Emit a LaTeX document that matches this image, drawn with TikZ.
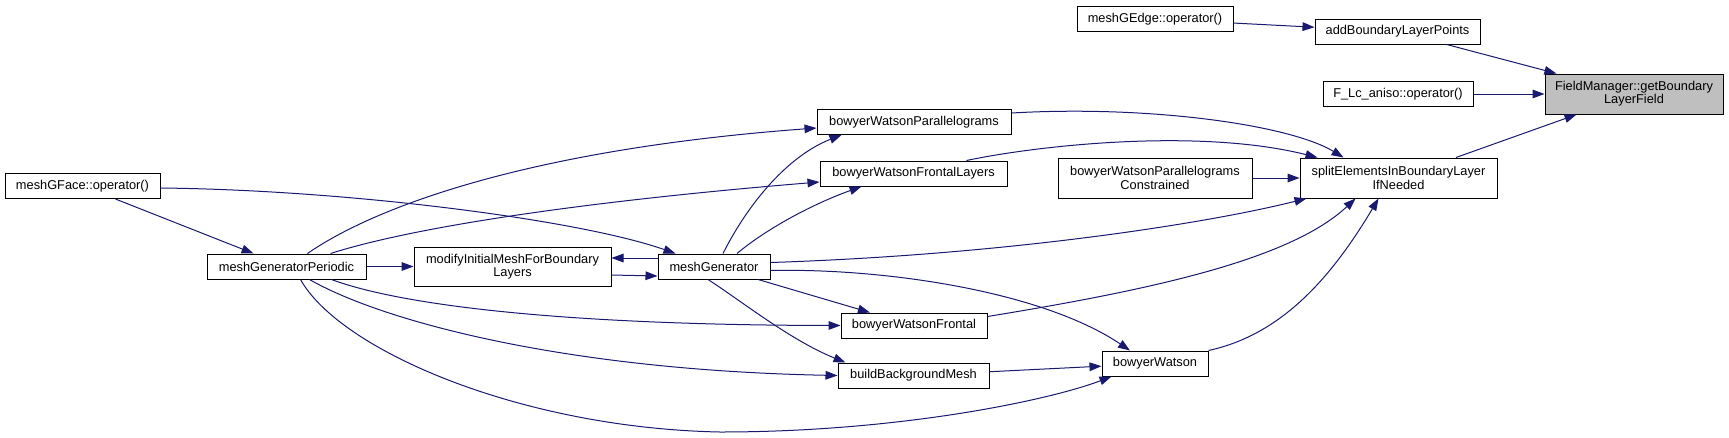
\documentclass[tikz,border=0pt]{standalone}
\usepackage{fontspec}
\setmainfont{Liberation Sans}
\usepackage{tikz}
\usetikzlibrary{arrows.meta,calc}
\definecolor{edgeblue}{HTML}{191970}
\definecolor{currentgray}{HTML}{BFBFBF}
\tikzset{
  fnbox/.style={draw=black, line width=0.75pt, fill=white, align=center, inner sep=1pt, minimum height=18.75pt},
  fnboxtwo/.style={fnbox, minimum height=30pt},
  currentfn/.style={fnboxtwo, fill=currentgray},
  arrow/.style={-{Triangle[length=9pt,width=6.5pt]}, line width=0.75pt, draw=edgeblue}
}

\begin{document}
\begin{tikzpicture}[x=0.75pt, y=-0.75pt, font=\fontsize{9.6pt}{10pt}\selectfont]
  \useasboundingbox (0,0) rectangle (1729,437);

  \node[currentfn, minimum width=133.5pt] (fieldMgr) at (1634,94) {FieldManager::getBoundary\\LayerField};
  \node[fnbox, minimum width=117pt] (meshGEdge) at (1155,19) {meshGEdge::operator()};
  \node[fnbox, minimum width=123.75pt] (addBLPoints) at (1397.5,31.5) {addBoundaryLayerPoints};
  \node[fnbox, minimum width=112.5pt] (fLcAniso) at (1398,94) {F\_Lc\_aniso::operator()};
  \node[fnboxtwo, minimum width=147.75pt] (splitElems) at (1398.5,178) {splitElementsInBoundaryLayer\\IfNeeded};
  \node[fnboxtwo, minimum width=145.5pt] (bwParCons) at (1155,178) {bowyerWatsonParallelograms\\Constrained};
  \node[fnbox, minimum width=145.5pt] (bwPar) at (914,122) {bowyerWatsonParallelograms};
  \node[fnbox, minimum width=140.25pt] (bwFrontLay) at (913.5,173.5) {bowyerWatsonFrontalLayers};
  \node[fnbox, minimum width=109.5pt] (bwFront) at (914,325.5) {bowyerWatsonFrontal};
  \node[fnbox, minimum width=113.25pt] (buildBgMesh) at (913.5,375.5) {buildBackgroundMesh};
  \node[fnbox, minimum width=79.5pt] (bw) at (1155,363.5) {bowyerWatson};
  \node[fnbox, minimum width=84pt] (meshGen) at (714,266.5) {meshGenerator};
  \node[fnboxtwo, minimum width=147.75pt, minimum height=29.25pt] (modifyMesh) at (512.5,266.5) {modifyInitialMeshForBoundary\\Layers};
  \node[fnbox, minimum width=119.25pt] (meshGenPer) at (286.5,266.5) {meshGeneratorPeriodic};
  \node[fnbox, minimum width=116.25pt] (meshGFace) at (82.5,186) {meshGFace::operator()};

  \draw[arrow] (meshGEdge) -- (addBLPoints);
  \draw[arrow] (addBLPoints) -- (fieldMgr);
  \draw[arrow] (fLcAniso) -- (fieldMgr);
  \draw[arrow] (splitElems) -- (fieldMgr);
  \draw[arrow] ($(bwPar.east)+(0,-9)$) .. controls (1150,105) and (1290,125) .. ($(splitElems.north)+(-55,0)$);
  \draw[arrow] ($(bwFrontLay.north)+(53,0)$) .. controls (1040,145) and (1200,128) .. ($(splitElems.north)+(-81,0)$);
  \draw[arrow] (bwParCons) -- (splitElems);
  \draw[arrow] ($(meshGen.east)+(0,-4)$) .. controls (1000,255) and (1200,225) .. ($(splitElems.south west)+(7,0)$);
  \draw[arrow] ($(bwFront.east)+(0,-9)$) .. controls (1150,290) and (1290,260) .. ($(splitElems.south)+(-43,0)$);
  \draw[arrow] (bw.north east) .. controls (1280,335) and (1330,280) .. ($(splitElems.south)+(-20,0)$);
  \draw[arrow] ($(meshGen.north)+(9,0)$) .. controls (750,200) and (790,155) .. ($(bwPar.south west)+(25,0)$);
  \draw[arrow] ($(meshGenPer.north)+(21,0)$) .. controls (370,210) and (520,150) .. ($(bwPar.west)+(0,6)$);
  \draw[arrow] ($(meshGen.north)+(23,0)$) .. controls (765,230) and (810,205) .. ($(bwFrontLay.south west)+(42,0)$);
  \draw[arrow] ($(meshGenPer.north)+(44,0)$) .. controls (420,225) and (600,200) .. ($(bwFrontLay.west)+(0,8.5)$);
  \draw[arrow] (meshGFace) -- (meshGenPer);
  \draw[arrow] ($(meshGFace.east)+(0,2)$) .. controls (350,190) and (580,220) .. ($(meshGen.north west)+(18,0)$);
  \draw[arrow] (meshGenPer) -- (modifyMesh);
  \draw[arrow] ($(meshGen.west)+(0,-8.5)$) -- ($(modifyMesh.east)+(0,-8.5)$);
  \draw[arrow] ($(modifyMesh.east)+(0,8.5)$) -- ($(meshGen.west)+(0,9.5)$);
  \draw[arrow] (meshGen) -- (bwFront);
  \draw[arrow] ($(meshGenPer.south)+(45,0)$) .. controls (400,305) and (560,325) .. (bwFront.west);
  \draw[arrow] ($(meshGen.south)+(-6,0)$) .. controls (740,300) and (790,340) .. ($(buildBgMesh.north west)+(8,0)$);
  \draw[arrow] ($(meshGenPer.south)+(23,0)$) .. controls (380,320) and (560,370) .. (buildBgMesh.west);
  \draw[arrow] ($(meshGen.east)+(0,4)$) .. controls (880,268) and (1040,290) .. ($(bw.north)+(-25,0)$);
  \draw[arrow] (buildBgMesh) -- (bw);
  \draw[arrow] ($(meshGenPer.south)+(14,0)$) .. controls (340,350) and (520,428) .. (720,432)
    .. controls (900,432) and (1050,400) .. ($(bw.south west)+(10,0)$);
\end{tikzpicture}
\end{document}
